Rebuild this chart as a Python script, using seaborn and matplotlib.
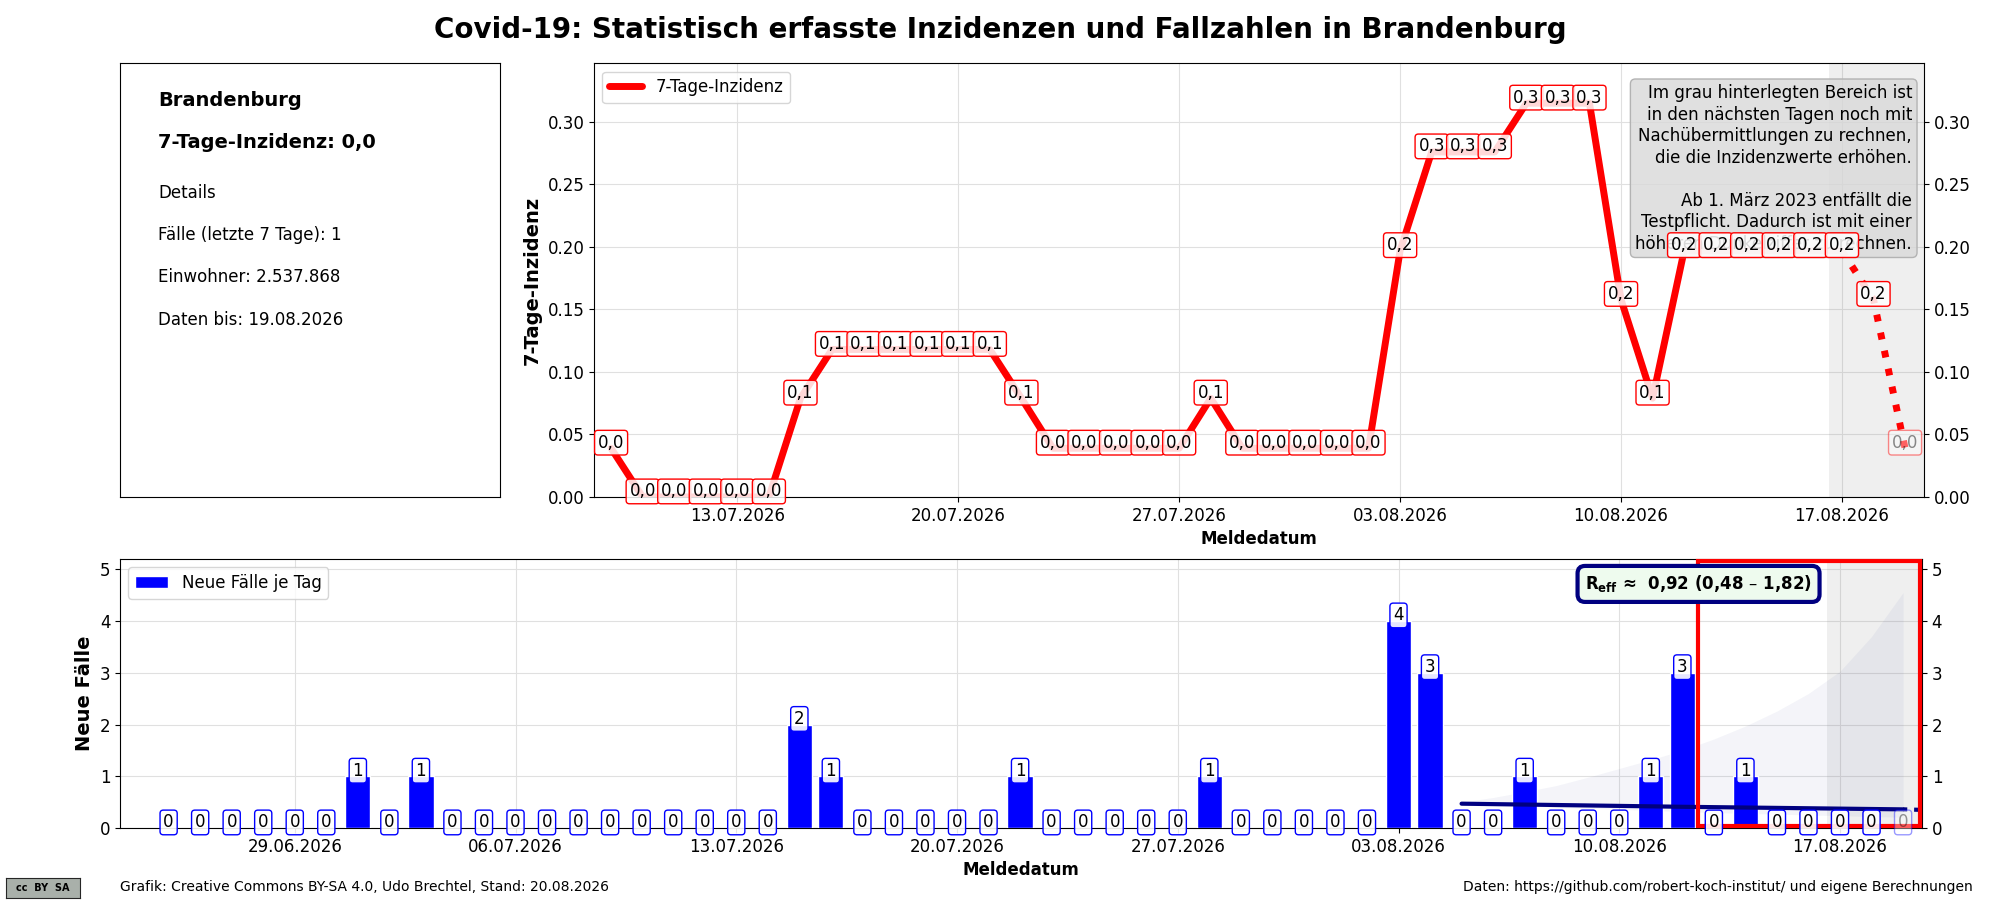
import pandas as pd
import numpy as np
import matplotlib
matplotlib.use('Agg')
import matplotlib.pyplot as plt
import matplotlib.dates as mdates
from matplotlib.patches import Rectangle
import seaborn as sns

sns.set_style('ticks')
plt.rcParams['font.family'] = ['DejaVu Sans']
plt.rcParams['text.color'] = 'black'
plt.rcParams['axes.labelcolor'] = 'black'
plt.rcParams['xtick.color'] = 'black'
plt.rcParams['ytick.color'] = 'black'

# 7-Tage-Inzidenz ab 09.07.2026
inz_start = '2026-07-09'
inzidenz = [0.039,
            0.0, 0.0, 0.0, 0.0, 0.0,
            0.079,
            0.118, 0.118, 0.118, 0.118, 0.118, 0.118,
            0.079,
            0.039, 0.039, 0.039, 0.039, 0.039,
            0.079,
            0.039, 0.039, 0.039, 0.039, 0.039,
            0.197,
            0.276, 0.276, 0.276,
            0.315, 0.315, 0.315,
            0.158,
            0.079,
            0.197, 0.197, 0.197, 0.197, 0.197, 0.197,
            0.158,
            0.039]

# Neue Faelle je Tag ab 25.06.2026
faelle_start = '2026-06-25'
faelle = [0, 0, 0, 0, 0, 0, 1, 0, 1,
          0, 0, 0, 0, 0, 0, 0, 0, 0, 0, 0,
          2, 1, 0, 0, 0, 0, 0, 1, 0, 0, 0, 0, 0, 1,
          0, 0, 0, 0, 0, 4, 3, 0, 0, 1, 0, 0, 0, 1, 3, 0, 1,
          0, 0, 0, 0, 0]

# R-Schaetzung / Prognoseband ab 05.08.2026
band_start = '2026-08-05'
band_oben = [0.50, 0.59, 0.70, 0.82, 0.98, 1.15, 1.32, 1.50, 1.72, 1.97,
             2.26, 2.60, 3.03, 3.70, 4.55]
band_unten = [0.48, 0.45, 0.43, 0.40, 0.38, 0.36, 0.34, 0.32, 0.30, 0.28,
              0.27, 0.25, 0.24, 0.22, 0.21]
trend_daten = ['2026-08-05', '2026-08-12', '2026-08-19']
trend_werte = [0.47, 0.41, 0.36]

info_zeilen = ['Details', 'Fälle (letzte 7 Tage): 1', 'Einwohner: 2.537.868',
               'Daten bis: 19.08.2026']

d_inz = pd.date_range(inz_start, periods=len(inzidenz), freq='D')
d_fall = pd.date_range(faelle_start, periods=len(faelle), freq='D')
d_band = pd.date_range(band_start, periods=len(band_oben), freq='D')
df_inz = pd.DataFrame({'Meldedatum': d_inz, 'Inzidenz': inzidenz})

fmt = mdates.DateFormatter('%d.%m.%Y')
loc = mdates.WeekdayLocator(byweekday=mdates.MO)
x_end = pd.Timestamp('2026-08-19 14:24')
grau_start = pd.Timestamp('2026-08-16 14:00')

fig = plt.figure(figsize=(20, 9), dpi=100)
fig.text(0.5, 0.967, 'Covid-19: Statistisch erfasste Inzidenzen und Fallzahlen in Brandenburg',
         ha='center', va='center', fontsize=20, fontweight='bold')

# --- Info-Kasten links
ax0 = fig.add_axes([0.06, 0.4478, 0.19, 0.482])
ax0.set_xticks([])
ax0.set_yticks([])
for s in ax0.spines.values():
    s.set_color('black')
ax0.text(0.1, 0.915, 'Brandenburg', fontsize=14, fontweight='bold', va='center', transform=ax0.transAxes)
ax0.text(0.1, 0.816, '7-Tage-Inzidenz: ' + f'{inzidenz[-1]:.1f}'.replace('.', ','),
         fontsize=14, fontweight='bold', va='center', transform=ax0.transAxes)
for i, z in enumerate(info_zeilen):
    ax0.text(0.1, 0.70 - i * 0.097, z, fontsize=12, va='center', transform=ax0.transAxes)

# --- 7-Tage-Inzidenz
ax1 = fig.add_axes([0.297, 0.4478, 0.665, 0.482])
sns.lineplot(data=df_inz.iloc[:-2], x='Meldedatum', y='Inzidenz', color='red', lw=5,
             label='7-Tage-Inzidenz', ax=ax1, zorder=3)
sns.lineplot(data=df_inz.iloc[-3:], x='Meldedatum', y='Inzidenz', color='red', lw=5,
             ls=':', ax=ax1, zorder=3)
ax1.axvspan(grau_start, x_end, color='gray', alpha=0.12, lw=0)
for i, (d, v) in enumerate(zip(d_inz, inzidenz)):
    a = 0.45 if i == len(inzidenz) - 1 else 1.0
    ax1.annotate(f'{v:.1f}'.replace('.', ','), (d, v), xytext=(0, 4), textcoords='offset points',
                 ha='center', va='center', fontsize=12, alpha=a, zorder=6,
                 bbox=dict(boxstyle='round,pad=0.2', fc=(1, 1, 1, 0.85 * a), ec=(1, 0, 0, a), lw=1))
ax1.text(0.991, 0.952, 'Im grau hinterlegten Bereich ist\nin den nächsten Tagen noch mit\n'
         'Nachübermittlungen zu rechnen,\ndie die Inzidenzwerte erhöhen.\n\n'
         'Ab 1. März 2023 entfällt die\nTestpflicht. Dadurch ist mit einer\n'
         'höheren Dunkelziffer zu rechnen.',
         ha='right', va='top', fontsize=12, linespacing=1.25, transform=ax1.transAxes, zorder=4,
         bbox=dict(boxstyle='round,pad=0.3', fc=(0.85, 0.85, 0.85, 0.8), ec=(0.7, 0.7, 0.7)))
ax1.set_xlim(pd.Timestamp('2026-07-08 11:00'), x_end)
ax1.set_ylim(0, 0.347)
ax1.set_yticks([0, 0.05, 0.10, 0.15, 0.20, 0.25, 0.30])
ax1.yaxis.set_major_formatter(plt.FormatStrFormatter('%.2f'))
ax1.xaxis.set_major_locator(loc)
ax1.xaxis.set_major_formatter(fmt)
ax1.tick_params(axis='both', labelsize=12)
ax1.tick_params(axis='y', right=True, labelright=True)
ax1.grid(True, color='#e0e0e0', lw=0.8)
ax1.set_axisbelow(True)
ax1.set_xlabel('Meldedatum', fontsize=12, fontweight='bold')
ax1.set_ylabel('7-Tage-Inzidenz', fontsize=14, fontweight='bold')
ax1.legend(loc='upper left', fontsize=12)
for s in ax1.spines.values():
    s.set_color('black')

# --- Neue Faelle je Tag
ax2 = fig.add_axes([0.06, 0.08, 0.901, 0.299])
ax2.axvspan(grau_start, x_end, color='gray', alpha=0.12, lw=0)
ax2.fill_between(d_band, band_unten, band_oben, color='#283593', alpha=0.05, lw=0)
ax2.bar(d_fall, faelle, width=0.8, color='blue', label='Neue Fälle je Tag', zorder=3)
ax2.plot(pd.to_datetime(trend_daten), trend_werte, color='#000080', lw=3, zorder=4)
ax2.plot([pd.Timestamp(trend_daten[-1]), x_end], [trend_werte[-1], trend_werte[-1] - 0.01],
         color='#000080', lw=3, ls=':', zorder=4)
for i, (d, v) in enumerate(zip(d_fall, faelle)):
    a = 0.4 if i == len(faelle) - 1 else 1.0
    ax2.annotate(str(v), (d, v), xytext=(0, 4), textcoords='offset points',
                 ha='center', va='center', fontsize=12, alpha=a, zorder=6,
                 bbox=dict(boxstyle='round,pad=0.2', fc=(1, 1, 1, 0.9 * a), ec=(0, 0, 1, a), lw=1))
ax2.add_patch(Rectangle((mdates.date2num(pd.Timestamp('2026-08-12 12:00')), 0.03),
                        mdates.date2num(x_end) - mdates.date2num(pd.Timestamp('2026-08-12 12:00')) - 0.06,
                        5.12, fill=False, ec='red', lw=3, zorder=5, clip_on=False))
ax2.text(0.876, 0.907, r'$\mathbf{R_{eff}}$' + ' ≈  0,92 (0,48 – 1,82)', ha='center', va='center',
         fontsize=12, fontweight='bold', transform=ax2.transAxes, zorder=7,
         bbox=dict(boxstyle='round,pad=0.45', fc='#eefbee', ec='#000080', lw=3))
ax2.set_xlim(pd.Timestamp('2026-06-23 11:00'), x_end)
ax2.set_ylim(0, 5.2)
ax2.set_yticks([0, 1, 2, 3, 4, 5])
ax2.xaxis.set_major_locator(loc)
ax2.xaxis.set_major_formatter(fmt)
ax2.tick_params(axis='both', labelsize=12)
ax2.tick_params(axis='y', right=True, labelright=True)
ax2.grid(True, color='#e0e0e0', lw=0.8)
ax2.set_axisbelow(True)
ax2.set_xlabel('Meldedatum', fontsize=12, fontweight='bold')
ax2.set_ylabel('Neue Fälle', fontsize=14, fontweight='bold')
ax2.legend(loc='upper left', fontsize=12)
for s in ax2.spines.values():
    s.set_color('black')

# --- Fusszeile
logo = fig.add_axes([0.003, 0.002, 0.037, 0.023])
logo.set_facecolor('#a9b0aa')
logo.set_xticks([])
logo.set_yticks([])
logo.text(0.5, 0.5, 'cc  BY  SA', ha='center', va='center', fontsize=7, fontweight='bold',
          transform=logo.transAxes)
fig.text(0.06, 0.0144, 'Grafik: Creative Commons BY-SA 4.0, Udo Brechtel, Stand: 20.08.2026',
         fontsize=10, va='center')
fig.text(0.9865, 0.0144, 'Daten: https://github.com/robert-koch-institut/ und eigene Berechnungen',
         fontsize=10, va='center', ha='right')

fig.savefig('out.png', dpi=100)
